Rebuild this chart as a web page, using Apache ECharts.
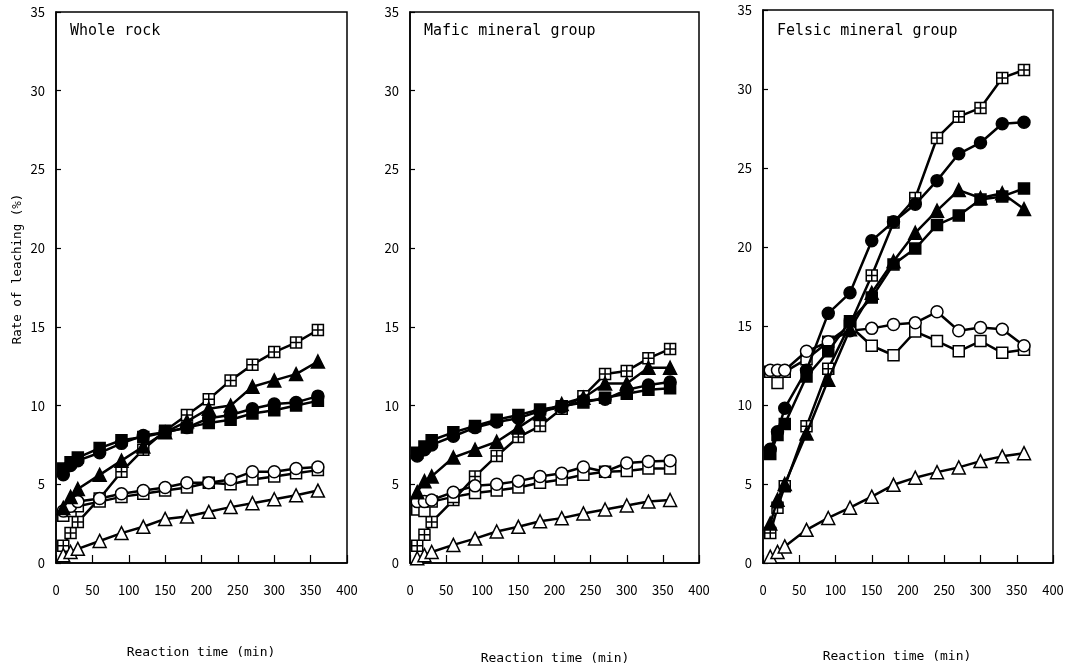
<!DOCTYPE html>
<html>
<head>
<meta charset="utf-8">
<script src="https://cdn.jsdelivr.net/npm/echarts@6/dist/echarts.min.js"></script>
<style>
html,body{margin:0;padding:0;background:#fff;}
#chart{width:1071px;height:668px;}
</style>
</head>
<body>
<div id="chart"></div>
<script>
// Reaction time (min)
var times = [10, 20, 30, 60, 90, 120, 150, 180, 210, 240, 270, 300, 330, 360];
var panelTitles = ['Whole rock', 'Mafic mineral group', 'Felsic mineral group'];
var yTicks = [0, 5, 10, 15, 20, 25, 30, 35];
var xTicks = [0, 50, 100, 150, 200, 250, 300, 350, 400];

// Whole rock
var wr_fc = [5.6, 6.2, 6.5, 7.0, 7.6, 8.1, 8.3, 8.6, 9.2, 9.4, 9.8, 10.1, 10.2, 10.6];
var wr_fs = [6.0, 6.4, 6.7, 7.3, 7.8, 8.0, 8.3, 8.6, 8.9, 9.1, 9.5, 9.7, 10.0, 10.3];
var wr_ft = [3.5, 4.2, 4.7, 5.6, 6.5, 7.4, 8.3, 9.0, 9.8, 10.0, 11.2, 11.6, 12.0, 12.8];
var wr_oc = [3.3, 3.6, 3.9, 4.1, 4.4, 4.6, 4.8, 5.1, 5.1, 5.3, 5.8, 5.8, 6.0, 6.1];
var wr_os = [3.0, 3.3, 3.6, 3.9, 4.2, 4.4, 4.6, 4.8, 5.1, 5.0, 5.3, 5.5, 5.7, 5.9];
var wr_ot = [0.5, 0.7, 0.9, 1.4, 1.9, 2.3, 2.8, 2.95, 3.25, 3.55, 3.8, 4.05, 4.3, 4.6];
var wr_gs = [1.1, 1.9, 2.6, 4.1, 5.8, 7.2, 8.4, 9.4, 10.4, 11.6, 12.6, 13.4, 14.0, 14.8];

// Mafic mineral group
var mf_fc = [6.8, 7.2, 7.5, 8.05, 8.6, 8.95, 9.2, 9.65, 9.9, 10.3, 10.4, 11.0, 11.3, 11.5];
var mf_fs = [7.0, 7.4, 7.8, 8.3, 8.7, 9.1, 9.4, 9.75, 9.95, 10.2, 10.5, 10.75, 11.0, 11.1];
var mf_ft = [4.5, 5.2, 5.5, 6.7, 7.2, 7.7, 8.6, 9.5, 10.1, 10.5, 11.4, 11.4, 12.4, 12.4];
var mf_oc = [3.9, 3.9, 4.0, 4.5, 4.9, 5.0, 5.2, 5.5, 5.7, 6.1, 5.8, 6.35, 6.45, 6.5];
var mf_os = [3.4, 3.3, 3.9, 4.2, 4.45, 4.6, 4.8, 5.1, 5.3, 5.6, 5.8, 5.85, 6.0, 6.0];
var mf_ot = [0.3, 0.5, 0.7, 1.15, 1.55, 2.0, 2.3, 2.65, 2.85, 3.15, 3.4, 3.65, 3.9, 4.0];
var mf_gs = [1.1, 1.8, 2.6, 4.0, 5.5, 6.8, 8.0, 8.7, 9.8, 10.6, 12.0, 12.2, 13.0, 13.6];

// Felsic mineral group
var fe_fc = [7.2, 8.3, 9.8, 12.2, 15.8, 17.1, 20.4, 21.6, 22.7, 24.2, 25.9, 26.6, 27.8, 27.9];
var fe_fs = [6.9, 8.1, 8.8, 11.8, 13.4, 15.3, 16.8, 18.9, 19.9, 21.4, 22.0, 23.0, 23.2, 23.7];
var fe_ft = [2.5, 4.0, 5.0, 8.2, 11.6, 14.8, 17.1, 19.1, 20.9, 22.3, 23.6, 23.1, 23.4, 22.4];
var fe_oc = [12.2, 12.2, 12.2, 13.4, 14.0, 14.7, 14.85, 15.1, 15.2, 15.9, 14.7, 14.9, 14.8, 13.75];
var fe_os = [12.1, 11.4, 12.1, 12.9, 14.0, 15.0, 13.75, 13.15, 14.65, 14.05, 13.4, 14.05, 13.3, 13.5];
var fe_ot = [0.4, 0.7, 1.05, 2.1, 2.85, 3.5, 4.2, 4.95, 5.4, 5.75, 6.05, 6.45, 6.75, 6.95];
var fe_gs = [1.9, 3.5, 4.85, 8.65, 12.3, 15.1, 18.2, 21.55, 23.1, 26.9, 28.25, 28.8, 30.7, 31.2];

var panels = [
  [wr_gs, wr_ot, wr_os, wr_oc, wr_ft, wr_fs, wr_fc],
  [mf_gs, mf_ot, mf_os, mf_oc, mf_ft, mf_fs, mf_fc],
  [fe_gs, fe_ot, fe_os, fe_oc, fe_ft, fe_fs, fe_fc]
];

var GRID_SQ = 'path://M0,0L10,0L10,10L0,10Z M5,0L5,10 M0,5L10,5';
var markers = [
  {symbol: GRID_SQ, size: 11, fill: '#fff'},
  {symbol: 'triangle', size: 13, fill: '#fff'},
  {symbol: 'rect', size: 11, fill: '#fff'},
  {symbol: 'circle', size: 12, fill: '#fff'},
  {symbol: 'triangle', size: 13, fill: '#000'},
  {symbol: 'rect', size: 11, fill: '#000'},
  {symbol: 'circle', size: 12, fill: '#000'}
];

var grids = [
  {left: 56, top: 12, width: 291, height: 551},
  {left: 410, top: 12, width: 289, height: 551},
  {left: 763, top: 10, width: 290, height: 553}
];

var monoFont = 'DejaVu Sans Mono';
var tickFont = 'Noto Sans CJK JP';
var xAxes = [], yAxes = [], series = [], titles = [];
grids.forEach(function (g, i) {
  g.show = true; g.borderColor = '#000'; g.borderWidth = 1.5; g.backgroundColor = 'transparent';
  xAxes.push({
    type: 'value', gridIndex: i, min: xTicks[0], max: xTicks[xTicks.length - 1], interval: 50,
    axisLine: {show: true, lineStyle: {color: '#000', width: 1.5}},
    axisTick: {show: true, inside: true, length: 8, lineStyle: {color: '#000', width: 1.2}},
    axisLabel: {color: '#000', fontFamily: tickFont, fontSize: 13, margin: 21},
    splitLine: {show: false}
  });
  yAxes.push({
    type: 'value', gridIndex: i, min: yTicks[0], max: yTicks[yTicks.length - 1], interval: 5,
    axisLine: {show: true, lineStyle: {color: '#000', width: 1.5}},
    axisTick: {show: true, inside: true, length: 5, lineStyle: {color: '#000', width: 1.2}},
    axisLabel: {color: '#000', fontFamily: tickFont, fontSize: 13, margin: 11},
    splitLine: {show: false}
  });
  titles.push({
    text: panelTitles[i], left: g.left + 9, top: 19,
    textStyle: {color: '#000', fontFamily: monoFont, fontSize: 15, fontWeight: 'normal'}
  });
  panels[i].forEach(function (vals, k) {
    var m = markers[k];
    series.push({
      type: 'line', xAxisIndex: i, yAxisIndex: i,
      data: times.map(function (t, j) { return [t, vals[j]]; }),
      symbol: m.symbol, symbolSize: m.size, showSymbol: true,
      lineStyle: {color: '#000', width: 2.5},
      itemStyle: {color: m.fill, borderColor: '#000', borderWidth: 1.5},
      emphasis: {disabled: true},
      animation: false,
      z: 2 + k
    });
  });
});

var nameFont = '13px "DejaVu Sans Mono"';
var chart = echarts.init(document.getElementById('chart'));
chart.setOption({
  backgroundColor: '#fff',
  animation: false,
  title: titles,
  grid: grids,
  xAxis: xAxes,
  yAxis: yAxes,
  series: series,
  graphic: [
    {type: 'text', x: 18, y: 269, rotation: Math.PI / 2,
      style: {text: 'Rate of leaching (%)', fill: '#000', font: '12.5px "DejaVu Sans Mono"', align: 'center', verticalAlign: 'middle'}},
    {type: 'text', x: 201, y: 653,
      style: {text: 'Reaction time (min)', fill: '#000', font: nameFont, align: 'center', verticalAlign: 'middle'}},
    {type: 'text', x: 555, y: 659,
      style: {text: 'Reaction time (min)', fill: '#000', font: nameFont, align: 'center', verticalAlign: 'middle'}},
    {type: 'text', x: 897, y: 657,
      style: {text: 'Reaction time (min)', fill: '#000', font: nameFont, align: 'center', verticalAlign: 'middle'}}
  ]
});
</script>
</body>
</html>
